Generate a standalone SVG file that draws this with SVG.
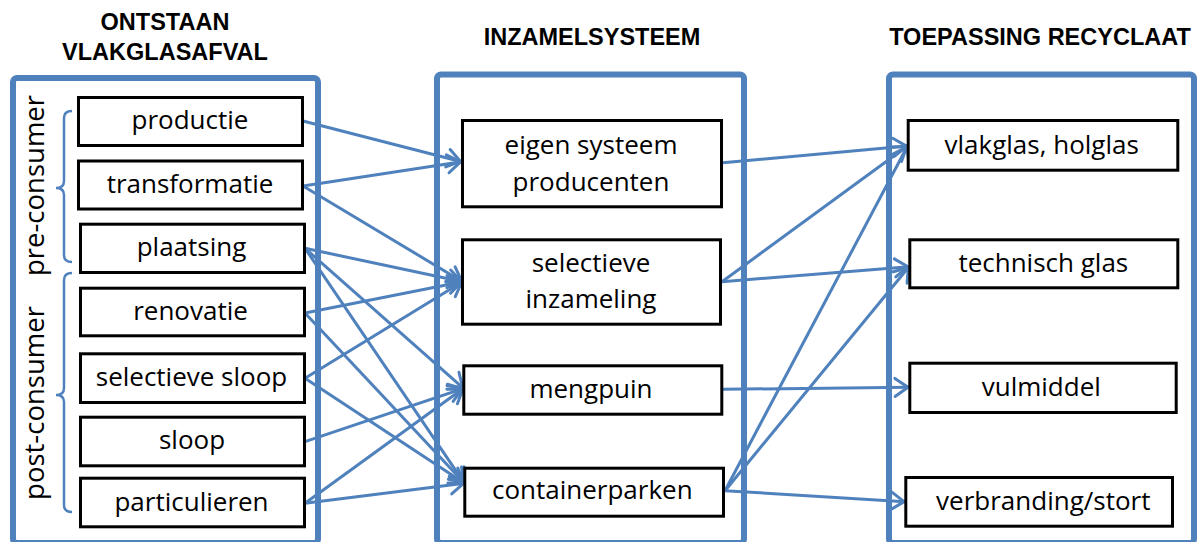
<svg xmlns="http://www.w3.org/2000/svg" width="1197" height="542" viewBox="0 0 1197 542">
  <style>
    .frame { fill: none; stroke: #4f81bd; stroke-width: 6; }
    .box { fill: #ffffff; stroke: #000000; stroke-width: 3; }
    .lbl { font-family: "Open Sans", "Noto Sans", sans-serif; font-size: 26px; fill: #000000; text-anchor: middle; }
    .side { font-size: 27.5px; }
    .hdr { font-family: "Liberation Sans", Arial, sans-serif; font-weight: bold; font-size: 23.5px; fill: #000000; text-anchor: middle; }
    .brace { fill: none; stroke: #4f81bd; stroke-width: 2.5; }
    .conn { fill: none; stroke: #4f81bd; stroke-width: 3; marker-end: url(#arr); }
  </style>
  <defs>
    <marker id="arr" markerUnits="userSpaceOnUse" viewBox="-16 -12 20 24" markerWidth="20" markerHeight="24" refX="1" refY="0" orient="auto">
      <path d="M-13,-9 L0,0 L-13,9" fill="none" stroke="#4f81bd" stroke-width="3" stroke-linejoin="round" stroke-linecap="round"/>
    </marker>
  </defs>
  <rect width="1197" height="542" fill="#ffffff"/>

  <g id="headers">
    <text class="hdr" x="165" y="30">ONTSTAAN</text>
    <text class="hdr" x="165" y="59.5">VLAKGLASAFVAL</text>
    <text class="hdr" x="592" y="45">INZAMELSYSTEEM</text>
    <text class="hdr" x="1040" y="45">TOEPASSING RECYCLAAT</text>
  </g>

  <g id="frame-ontstaan"><rect class="frame" x="13" y="78" width="305" height="465" rx="4"/></g>
  <g id="frame-inzamel"><rect class="frame" x="437" y="74.5" width="307" height="468.5" rx="4"/></g>
  <g id="frame-toepassing"><rect class="frame" x="889" y="74.5" width="305" height="468.5" rx="4"/></g>

  <g id="pre-consumer">
    <path class="brace" d="M72,111 Q64,111 64,118 L64,181 Q64,188 56,188 Q64,188 64,195 L64,255 Q64,262 72,262"/>
    <text class="lbl side" transform="translate(44,185.5) rotate(-90)" x="0" y="0">pre-consumer</text>
  </g>
  <g id="post-consumer">
    <path class="brace" d="M72,273 Q64,273 64,280 L64,388 Q64,395 56,395 Q64,395 64,402 L64,505 Q64,512 72,512"/>
    <text class="lbl side" transform="translate(44,403) rotate(-90)" x="0" y="0">post-consumer</text>
  </g>

  <g id="connectors">
    <path class="conn" d="M303,121 L461.5,161.7"/>
    <path class="conn" d="M303,186 L461.5,161.7"/>
    <path class="conn" d="M303,186 L462.5,281.7"/>
    <path class="conn" d="M305,248.3 L462.5,281.7"/>
    <path class="conn" d="M305,248.3 L463.5,388.3"/>
    <path class="conn" d="M305,248.3 L464.5,483.3"/>
    <path class="conn" d="M305,313 L462.5,281.7"/>
    <path class="conn" d="M305,313 L464.5,483.3"/>
    <path class="conn" d="M305,378.3 L462.5,281.7"/>
    <path class="conn" d="M305,378.3 L464.5,483.3"/>
    <path class="conn" d="M305,441.7 L463.5,388.3"/>
    <path class="conn" d="M305,503.3 L463.5,388.3"/>
    <path class="conn" d="M305,503.3 L464.5,483.3"/>
    <path class="conn" d="M723,162.7 L907.5,146"/>
    <path class="conn" d="M722,281.7 L907.5,146"/>
    <path class="conn" d="M722,281.7 L909,266.7"/>
    <path class="conn" d="M723,389.3 L909,387.3"/>
    <path class="conn" d="M725,490.7 L907.5,146"/>
    <path class="conn" d="M725,490.7 L909,266.7"/>
    <path class="conn" d="M725,490.7 L905,501.7"/>
  </g>

  <g id="productie"><rect class="box" x="78.5" y="97.5" width="224" height="48"/><text class="lbl" x="190" y="129">productie</text></g>
  <g id="transformatie"><rect class="box" x="78.5" y="161" width="224" height="48"/><text class="lbl" x="190" y="192.5">transformatie</text></g>
  <g id="plaatsing"><rect class="box" x="80.5" y="224.2" width="224" height="48.3"/><text class="lbl" x="191.5" y="256">plaatsing</text></g>
  <g id="renovatie"><rect class="box" x="80.5" y="288.2" width="224" height="47.6"/><text class="lbl" x="190.5" y="319.5">renovatie</text></g>
  <g id="selectieve-sloop"><rect class="box" x="80.5" y="353.8" width="224" height="48.7"/><text class="lbl" x="191.5" y="386">selectieve sloop</text></g>
  <g id="sloop"><rect class="box" x="80.5" y="417.2" width="224" height="48.6"/><text class="lbl" x="192" y="449">sloop</text></g>
  <g id="particulieren"><rect class="box" x="80.5" y="478.2" width="224" height="48.6"/><text class="lbl" x="191.5" y="510.5">particulieren</text></g>

  <g id="eigen-systeem"><rect class="box" x="462.5" y="120.5" width="259" height="86.3"/><text class="lbl" x="591" y="154">eigen systeem</text><text class="lbl" x="591" y="190.5">producenten</text></g>
  <g id="selectieve-inzameling"><rect class="box" x="462.5" y="239.8" width="258" height="84.4"/><text class="lbl" x="591" y="272">selectieve</text><text class="lbl" x="591" y="307.5">inzameling</text></g>
  <g id="mengpuin"><rect class="box" x="463.8" y="365.8" width="258" height="48.4"/><text class="lbl" x="591" y="397.5">mengpuin</text></g>
  <g id="containerparken"><rect class="box" x="464.8" y="468.2" width="258.7" height="48"/><text class="lbl" x="592.3" y="499.3">containerparken</text></g>

  <g id="vlakglas-holglas"><rect class="box" x="908.2" y="120.5" width="269.6" height="49.7"/><text class="lbl" x="1041.7" y="153.5">vlakglas, holglas</text></g>
  <g id="technisch-glas"><rect class="box" x="909.8" y="239.8" width="268" height="48"/><text class="lbl" x="1043.3" y="271.5">technisch glas</text></g>
  <g id="vulmiddel"><rect class="box" x="909.8" y="363.2" width="266.4" height="49.3"/><text class="lbl" x="1041.3" y="395.5">vulmiddel</text></g>
  <g id="verbranding-stort"><rect class="box" x="905.8" y="477.5" width="266.7" height="48.7"/><text class="lbl" x="1043.3" y="509.5">verbranding/stort</text></g>
</svg>
